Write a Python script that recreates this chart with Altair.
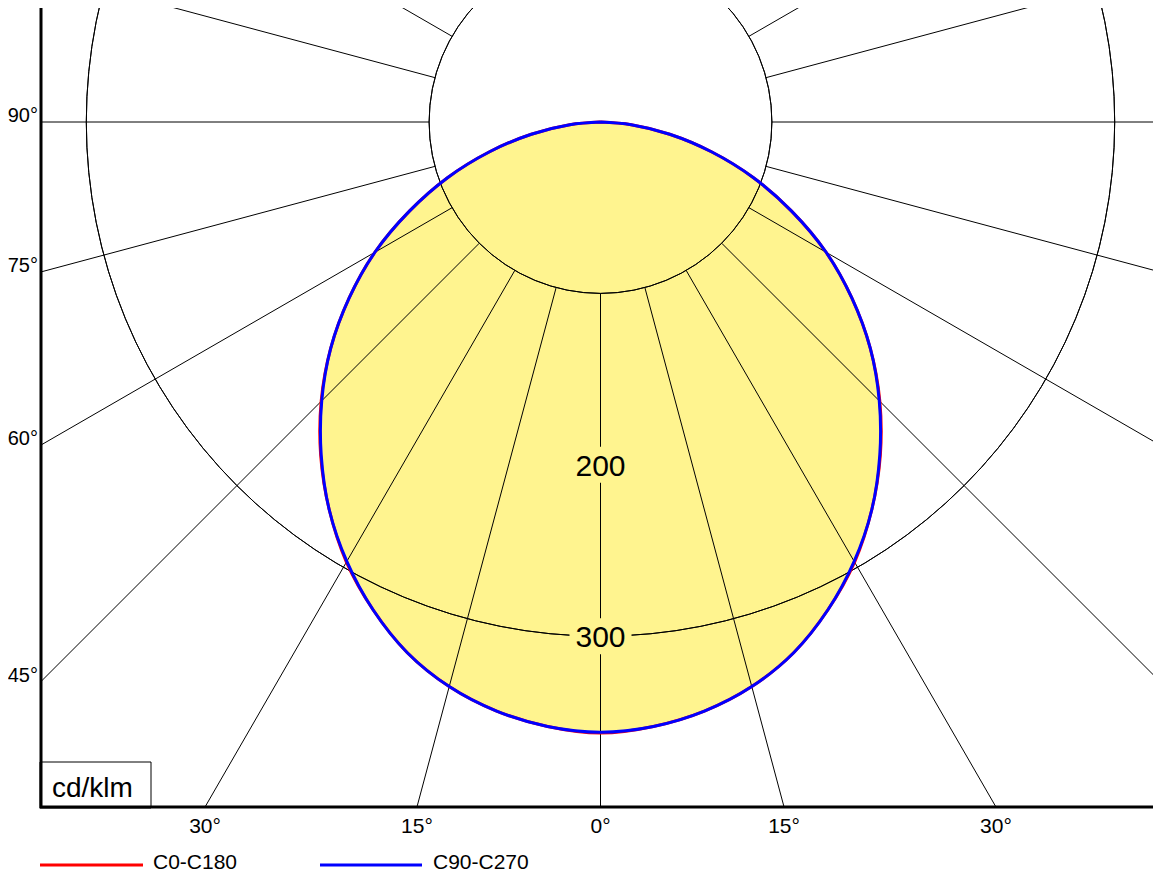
import numpy as np
import pandas as pd
import altair as alt

# ---------------- data ----------------
angles = [0, 5, 10, 15, 20, 25, 30, 35, 40, 45, 50, 55, 60, 65, 70, 75, 80, 85, 90]
c0_c180 = [356.5, 354, 349, 341, 329.5, 314, 296.5, 276, 254, 230.5, 205.5, 179, 152, 123, 95, 67, 41, 18, 0]
c90_c270 = [356, 354, 349, 341, 329.5, 314, 296, 276, 253.5, 230, 205.5, 179, 152, 123, 95, 67, 41, 18, 0]
series_names = ["C0-C180", "C90-C270"]
series_colors = ["#FF0000", "#0000FF"]
circle_values = [100, 200, 300, 400, 500, 600]
ray_angles = list(range(0, 360, 15))
circle_labels = [200, 300]
left_label_angles = [90, 75, 60, 45]
bottom_label_angles = [-30, -15, 0, 15, 30]
unit_text = "cd/klm"

# ---------------- layout constants ----------------
K = 1.714                    # px per cd/klm
W, H = 1119, 806
XMIN, XMAX = -326.43, 326.43
YMIN, YMAX = -399.65, 70.6
FONT = "Liberation Sans"
FILL = "#FFF48F"

xs = alt.Scale(domain=[XMIN, XMAX], nice=False, zero=False)
ys = alt.Scale(domain=[YMIN, YMAX], nice=False, zero=False)


def curve_frame(values, name):
    rows = []
    seq = [-a for a in angles[::-1]] + angles[1:]
    for i, a in enumerate(seq):
        v = values[angles.index(abs(a))]
        t = np.radians(a)
        rows.append({"i": i, "x": v * np.sin(t), "y": -v * np.cos(t), "s": name})
    return pd.DataFrame(rows)


d0 = curve_frame(c0_c180, series_names[0])
d90 = curve_frame(c90_c270, series_names[1])

color = alt.Color("s:N", scale=alt.Scale(domain=series_names, range=series_colors), legend=None)

fill = alt.Chart(d90).mark_line(fill=FILL, strokeWidth=0, interpolate="catmull-rom", clip=True).encode(
    x=alt.X("x:Q", scale=xs, axis=None), y=alt.Y("y:Q", scale=ys, axis=None), order="i:Q")

circ = pd.DataFrame({"r": circle_values, "cx": 0, "cy": 0})
circles = alt.Chart(circ).mark_arc(filled=False, stroke="black", strokeWidth=1, theta=0,
                                   theta2=6.2832, clip=True).encode(
    x=alt.X("cx:Q", scale=xs), y=alt.Y("cy:Q", scale=ys),
    radius=alt.Radius("r:Q", scale=alt.Scale(type="linear", domain=[0, 100], range=[0, 100 * K])))

rays = pd.DataFrame({"a": ray_angles})
rays["x"] = 100 * np.sin(np.radians(rays["a"]))
rays["y"] = -100 * np.cos(np.radians(rays["a"]))
rays["x2"] = 1000 * np.sin(np.radians(rays["a"]))
rays["y2"] = -1000 * np.cos(np.radians(rays["a"]))
ray_layer = alt.Chart(rays).mark_rule(color="black", strokeWidth=1, clip=True).encode(
    x=alt.X("x:Q", scale=xs), y=alt.Y("y:Q", scale=ys), x2="x2:Q", y2="y2:Q")

cl = pd.DataFrame({"v": circle_labels})
cl["x"] = 0
cl["y"] = -cl["v"]
cl["t"] = cl["v"].astype(str)
lab_bg = alt.Chart(cl).mark_point(shape="M-1,-0.58L1,-0.58L1,0.58L-1,0.58Z", size=62 * 62,
                                  filled=True, color=FILL, opacity=1, strokeWidth=0).encode(
    x=alt.X("x:Q", scale=xs), y=alt.Y("y:Q", scale=ys))
lab_txt = alt.Chart(cl).mark_text(font=FONT, fontSize=30, color="black", baseline="middle",
                                  align="center", dy=2).encode(
    x=alt.X("x:Q", scale=xs), y=alt.Y("y:Q", scale=ys), text="t:N")

red = alt.Chart(d0).mark_line(strokeWidth=3, interpolate="catmull-rom", clip=True).encode(
    x=alt.X("x:Q", scale=xs), y=alt.Y("y:Q", scale=ys), order="i:Q", color=color)
blue = alt.Chart(d90).mark_line(strokeWidth=3, interpolate="catmull-rom", clip=True).encode(
    x=alt.X("x:Q", scale=xs), y=alt.Y("y:Q", scale=ys), order="i:Q", color=color)

ll = pd.DataFrame({"a": left_label_angles})
ll["y"] = XMIN * np.cos(np.radians(ll["a"])) / np.sin(np.radians(ll["a"]))
ll["t"] = ll["a"].astype(str) + "°"
left_labels = alt.Chart(ll).mark_text(font=FONT, fontSize=20, color="black", align="right",
                                      baseline="alphabetic").encode(
    x=alt.value(-3), y=alt.Y("y:Q", scale=ys), text="t:N")

bl = pd.DataFrame({"a": bottom_label_angles})
bl["x"] = -YMIN * np.tan(np.radians(bl["a"]))
bl["t"] = bl["a"].abs().astype(str) + "°"
bottom_labels = alt.Chart(bl).mark_text(font=FONT, fontSize=21, color="black", align="center",
                                        baseline="alphabetic").encode(
    x=alt.X("x:Q", scale=xs), y=alt.value(832), text="t:N")

unit = pd.DataFrame({"t": [unit_text]})
unit_box = alt.Chart(unit).mark_rect(fill="white", stroke="black", strokeWidth=1).encode(
    x=alt.value(-1), x2=alt.value(110), y=alt.value(761), y2=alt.value(807))
unit_txt = alt.Chart(unit).mark_text(font=FONT, fontSize=28, color="black", align="left",
                                     baseline="alphabetic").encode(
    x=alt.value(11), y=alt.value(796), text="t:N")

frame = alt.Chart(unit).mark_rect(filled=False, stroke="black", strokeWidth=3).encode(
    x=alt.value(0), x2=alt.value(W), y=alt.value(0), y2=alt.value(H))

# legend (drawn with the same colour scale)
leg_layers = []
leg_x = [(-1, 102, 112), (279, 381, 392)]
for name, (x0, x1, xt) in zip(series_names, leg_x):
    ld = pd.DataFrame({"s": [name]})
    leg_layers.append(alt.Chart(ld).mark_rule(strokeWidth=3).encode(
        x=alt.value(x0), x2=alt.value(x1), y=alt.value(864), color=color))
    leg_layers.append(alt.Chart(ld).mark_text(font=FONT, fontSize=21, color="black", align="left",
                                              baseline="alphabetic").encode(
        x=alt.value(xt), y=alt.value(867.5), text="s:N"))

chart = alt.layer(fill, circles, ray_layer, lab_bg, lab_txt, red, blue, unit_box, unit_txt,
                  frame, left_labels, bottom_labels, *leg_layers).properties(
    width=W, height=H, autosize=alt.AutoSizeParams(type="none"),
    padding={"left": 33, "top": -7, "right": -7, "bottom": 66},
    background="white",
).configure_view(strokeWidth=0)

chart.save("out.html", embed_options={"renderer": "svg", "actions": False})
